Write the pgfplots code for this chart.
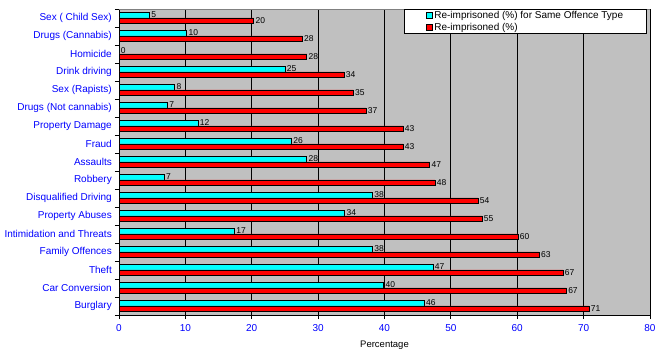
\documentclass[border=0pt]{standalone}
\usepackage{fontspec}
\setmainfont{Liberation Sans}
\usepackage{pgfplots}
\pgfplotsset{compat=1.18}
\usepackage{pgfplotstable}
\definecolor{plotbg}{RGB}{192,192,192}
\definecolor{mycyan}{RGB}{0,255,255}
\definecolor{myred}{RGB}{255,0,0}
\definecolor{myblue}{RGB}{0,0,255}
\definecolor{bordergray}{RGB}{128,128,128}

% idx 0 = Burglary (bottom) ... 16 = Sex (Child Sex) (top)
\pgfplotstableread{
idx same any
0  46.0 70.8
1  39.9 67.4
2  47.3 66.9
3  38.2 63.3
4  17.4 60.1
5  34.0 54.7
6  38.2 54.1
7  6.8  47.6
8  28.3 46.8
9  26.0 42.8
10 11.9 42.8
11 7.3  37.2
12 8.4  35.3
13 25.0 33.9
14 0.0  28.3
15 10.2 27.6
16 4.6  20.3
}\datatable

\begin{document}
\begin{tikzpicture}
\useasboundingbox (0,0) rectangle (657bp,353bp);
\begin{axis}[
  at={(119bp,38bp)}, anchor=south west,
  scale only axis, width=531bp, height=306bp,
  xbar, bar width=5.6bp,
  xmin=0, xmax=80, ymin=-0.5, ymax=16.5,
  xtick={0,10,...,80},
  ytick={-0.5,0.5,...,16.5},
  yticklabels={Burglary,Car Conversion,Theft,Family Offences,Intimidation and Threats,Property Abuses,Disqualified Driving,Robbery,Assaults,Fraud,Property Damage,Drugs (Not cannabis),Sex (Rapists),Drink driving,Homicide,Drugs (Cannabis),Sex ( Child Sex)},
  y tick label as interval,
  tick align=outside, major tick length=4bp,
  xtick pos=bottom, ytick pos=left,
  tick style={black, line width=0.8bp},
  xmajorgrids, major grid style={black, line width=0.8bp},
  axis background/.style={fill=plotbg},
  axis line style={black, line width=0.8bp},
  ticklabel style={font=\fontsize{10bp}{12bp}\selectfont, text=myblue},
  /pgf/number format/assume math mode=true,
  yticklabel style={anchor=east, inner sep=0pt, xshift=-3bp},
  xticklabel style={anchor=north, inner sep=0pt, yshift=-5bp},
  xlabel={Percentage},
  xlabel style={font=\fontsize{9.5bp}{11bp}\selectfont, at={(axis description cs:0.5,0)}, anchor=center, yshift=-30.7bp},
  legend style={at={(axis description cs:0.9944,1)}, anchor=north east, draw=black, fill=white, line width=0.8bp,
    font=\fontsize{10bp}{12bp}\selectfont, inner xsep=22bp, inner ysep=0.5bp, row sep=0pt,
    nodes={inner sep=1.5bp}},
  legend cell align=left,
  nodes near coords={\pgfmathprintnumber[fixed,precision=0]{\pgfplotspointmeta}},
  point meta=x,
  every node near coord/.append style={font=\fontsize{8.5bp}{10bp}\selectfont, text=black, inner sep=1.5bp},
]
\addplot[fill=mycyan, draw=black, line width=0.8bp, bar shift=2.8bp,
  every node near coord/.append style={yshift=1bp},
  legend image code/.code={\draw[fill=mycyan, draw=black, line width=0.8bp] (0bp,-3bp) rectangle (6bp,3bp);}]
  table[x=same, y=idx] {\datatable};
\addlegendentry{Re-imprisoned (\%) for Same Offence Type}
\addplot[fill=myred, draw=black, line width=0.8bp, bar shift=-2.8bp,
  legend image code/.code={\draw[fill=myred, draw=black, line width=0.8bp] (0bp,-3bp) rectangle (6bp,3bp);}]
  table[x=any, y=idx] {\datatable};
\addlegendentry{Re-imprisoned (\%)}
\draw[bordergray, line width=0.8bp] (rel axis cs:0,1) -- (rel axis cs:1,1) -- (rel axis cs:1,0);
\end{axis}
\end{tikzpicture}
\end{document}
